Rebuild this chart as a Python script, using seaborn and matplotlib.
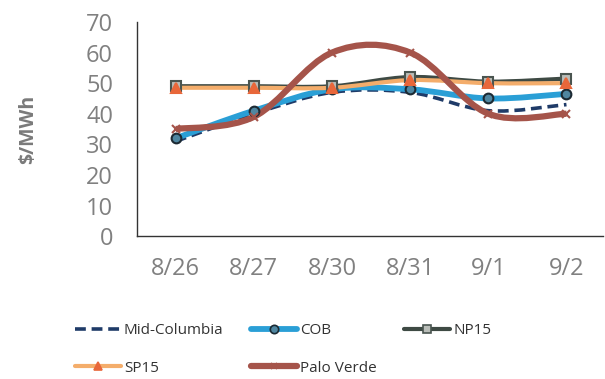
import numpy as np
import seaborn as sns
import matplotlib.pyplot as plt
from matplotlib.path import Path
from matplotlib.patches import PathPatch
from matplotlib.lines import Line2D

dates = ['8/26', '8/27', '8/30', '8/31', '9/1', '9/2']
mid_columbia = [31, 40, 47, 47, 41, 43]
cob = [32, 41, 48, 48, 45, 46.5]
np15 = [49, 49, 49, 52, 50.5, 51.5]
sp15 = [48.5, 48.5, 48.5, 51, 50, 50]
palo_verde = [35, 39, 60, 60, 40, 40]

series = {
    'Mid-Columbia': mid_columbia,
    'COB': cob,
    'NP15': np15,
    'SP15': sp15,
    'Palo Verde': palo_verde,
}

styles = {
    'Mid-Columbia': dict(color='#1f3b68', lw=2.6, ls=(0, (3, 1.6)), marker=None),
    'COB': dict(color='#2a9fd6', lw=4.2, ls='-', marker='o', mfc='#4f86a0', mec='#1c2a33', ms=7),
    'NP15': dict(color='#3e4a44', lw=3.0, ls='-', marker='s', mfc='#b9bdb8', mec='#4a5550', ms=7),
    'SP15': dict(color='#f4ad6b', lw=3.0, ls='-', marker='^', mfc='#e8673a', mec='#e8673a', ms=7),
    'Palo Verde': dict(color='#a5544a', lw=4.5, ls='-', marker='x', mfc='#a5544a', mec='#a5544a', ms=6),
}


def smooth_path(x, y):
    # catmull-rom style bezier, like excel's smoothed line
    pts = np.column_stack([x, y]).astype(float)
    n = len(pts)
    verts = [pts[0]]
    codes = [Path.MOVETO]
    for i in range(n - 1):
        p0 = pts[max(i - 1, 0)]
        p1 = pts[i]
        p2 = pts[i + 1]
        p3 = pts[min(i + 2, n - 1)]
        c1 = p1 + (p2 - p0) / 6
        c2 = p2 - (p3 - p1) / 6
        verts += [c1, c2, p2]
        codes += [Path.CURVE4] * 3
    return Path(verts, codes)


sns.set_style('white')
plt.rcParams['font.family'] = ['Open Sans', 'DejaVu Sans']

fig = plt.figure(figsize=(6.05, 3.79), dpi=100)
ax = fig.add_axes([0.226, 0.377, 0.771, 0.565])

pos = np.arange(len(dates))
handles = {}
for name, vals in series.items():
    st = styles[name]
    patch = PathPatch(smooth_path(pos, vals), facecolor='none', edgecolor=st['color'],
                      lw=st['lw'], ls=st['ls'], capstyle='butt', zorder=3)
    ax.add_patch(patch)
    if st['marker']:
        sns.lineplot(x=pos, y=vals, ax=ax, linestyle='', marker=st['marker'],
                     markersize=st['ms'], markerfacecolor=st['mfc'],
                     markeredgecolor=st['mec'], markeredgewidth=1.5, zorder=4)
    handles[name] = Line2D([], [], color=st['color'], lw=st['lw'], ls=st['ls'],
                           marker=st['marker'] or None, markersize=st.get('ms', 1) - 1,
                           markerfacecolor=st.get('mfc'), markeredgecolor=st.get('mec'),
                           markeredgewidth=1.2, label=name)

ax.set_xlim(-0.5, 5.47)
ax.set_ylim(0, 70)
ax.set_xticks(pos)
ax.set_xticklabels(dates)
ax.set_yticks(range(0, 71, 10))

for side in ['top', 'right']:
    ax.spines[side].set_visible(False)
for side in ['left', 'bottom']:
    ax.spines[side].set_color('#333333')
    ax.spines[side].set_linewidth(1.0)

ax.tick_params(axis='both', which='both', direction='out', length=6, width=0.8,
               color='#333333', labelcolor='#808080', labelsize=17)
ax.tick_params(axis='x', pad=9)
ax.tick_params(axis='y', pad=11)

ax.set_ylabel('$/MWh', fontsize=14, fontweight='bold', color='#7a7a7a')
ax.yaxis.set_label_coords(-0.212, 0.5)

# legend fills columns first, so reorder to get row-wise layout
order = ['Mid-Columbia', 'SP15', 'COB', 'Palo Verde', 'NP15']
fig.legend(handles=[handles[k] for k in order], loc='upper left',
           bbox_to_anchor=(0.124, 0.148), ncol=3, frameon=False, fontsize=11,
           labelcolor='#333333', handlelength=3.0, handletextpad=0.2,
           columnspacing=1.8, labelspacing=1.5, borderpad=0, borderaxespad=0)

fig.savefig('out.png', dpi=100)
